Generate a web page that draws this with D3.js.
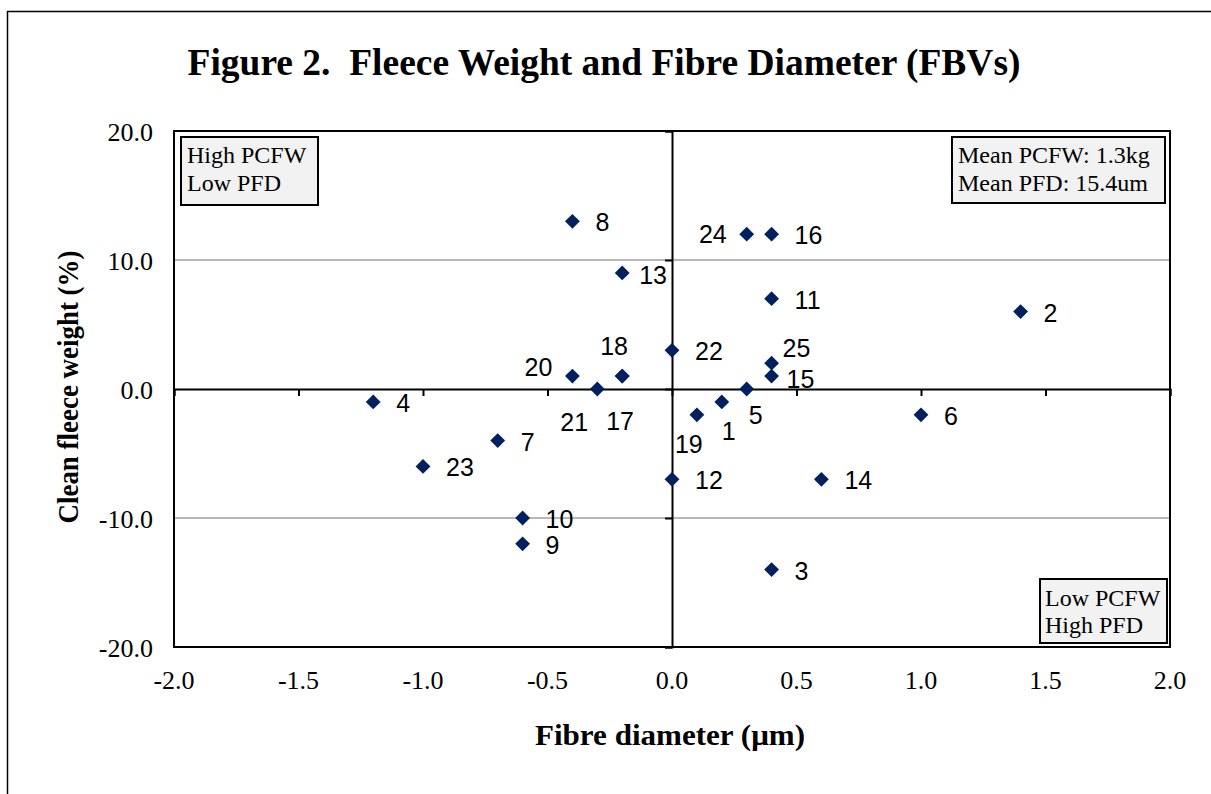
<!DOCTYPE html>
<html><head><meta charset="utf-8">
<script src="https://cdn.jsdelivr.net/npm/d3@7"></script>
<style>body{margin:0;background:#fff}svg{display:block}</style>
</head><body>
<script>
// ---- data ----
const sireIds = ["1","2","3","4","5","6","7","8","9","10","11","12","13","14","15","16","17","18","19","20","21","22","23","24","25"];
const fibreDiameter = [0.2,1.4,0.4,-1.2,0.3,1.0,-0.7,-0.4,-0.6,-0.6,0.4,0.0,-0.2,0.6,0.4,0.4,-0.2,-0.2,0.1,-0.4,-0.3,0.0,-1.0,0.3,0.4];
const cleanFleeceWeight = [-1,6,-14,-1,0,-2,-4,13,-12,-10,7,-7,9,-7,1,12,1,1,-2,1,0,3,-6,12,2];
const xTickValues = [-2.0,-1.5,-1.0,-0.5,0.0,0.5,1.0,1.5,2.0];
const yTickValues = [-20,-10,0,10,20];
const titleText = "Figure 2.  Fleece Weight and Fibre Diameter (FBVs)";
const xTitle = "Fibre diameter (\u03bcm)";
const yTitle = "Clean fleece weight (%)";
const boxTopLeft = ["High PCFW","Low PFD"];
const boxTopRight = ["Mean PCFW: 1.3kg","Mean PFD: 15.4um"];
const boxBottomRight = ["Low PCFW","High PFD"];

// ---- label placement (pixels, relative to marker) ----
const labelOffsets = {
  "1":[0,29,"start"],"5":[2,26,"start"],"19":[-22,29,"start"],
  "13":[17,2,"start"],"15":[15,3,"start"],"25":[11,-15,"start"],
  "18":[-22,-30,"start"],"20":[-20,-9,"end"],"21":[-37,33,"start"],
  "17":[-16,45,"start"],"24":[-20,0,"end"]
};

const W = 1211, H = 794;
const serif = "Liberation Serif, Times New Roman, serif";
const fmt = d => d3.format(".1f")(d).replace("\u2212","-");
const svg = d3.select("body").append("svg").attr("width", W).attr("height", H);

// outer chart border
svg.append("rect").attr("x",7.5).attr("y",11.5).attr("width",1400).attr("height",1000)
  .attr("fill","none").attr("stroke","#000").attr("stroke-width",1.5);

const L = 174, R = 1170, T = 131, B = 647;
const x = d3.scaleLinear().domain([-2,2]).range([L,R]);
const y = d3.scaleLinear().domain([-20,20]).range([B,T]);

// gridlines
svg.append("g").selectAll("line").data(yTickValues.filter(v => v !== 0 && Math.abs(v) !== 20))
  .join("line").attr("x1",L).attr("x2",R).attr("y1",d=>y(d)).attr("y2",d=>y(d))
  .attr("stroke","#a0a0a0").attr("stroke-width",1.5);

// plot border
svg.append("rect").attr("x",L).attr("y",T).attr("width",R-L).attr("height",B-T)
  .attr("fill","none").attr("stroke","#000").attr("stroke-width",2);

// axes through zero
const xAxis = d3.axisBottom(x).tickValues(xTickValues).tickSize(7).tickFormat("");
const gx = svg.append("g").attr("transform",`translate(0,${y(0)})`).call(xAxis);
gx.select(".domain").attr("stroke","#000").attr("stroke-width",2);
gx.selectAll(".tick line").attr("stroke","#000").attr("stroke-width",2);

const yAxis = d3.axisLeft(y).tickValues(yTickValues).tickSize(7).tickFormat("");
const gy = svg.append("g").attr("transform",`translate(${x(0)},0)`).call(yAxis);
gy.select(".domain").attr("stroke","#000").attr("stroke-width",2);
gy.selectAll(".tick line").attr("stroke","#000").attr("stroke-width",2);

// tick labels at plot edges
svg.append("g").selectAll("text").data(xTickValues).join("text")
  .attr("x",d=>x(d)).attr("y",689).attr("text-anchor","middle")
  .attr("font-family",serif).attr("font-size",26)
  .text(fmt);
svg.append("g").selectAll("text").data(yTickValues).join("text")
  .attr("x",153).attr("y",d=>y(d)+10).attr("text-anchor","end")
  .attr("font-family",serif).attr("font-size",26)
  .text(fmt);

// titles
svg.append("text").attr("x",604).attr("y",75).attr("text-anchor","middle")
  .attr("font-family",serif).attr("font-weight","bold")
  .attr("font-size",37).attr("textLength",833).attr("lengthAdjust","spacingAndGlyphs")
  .attr("xml:space","preserve").style("white-space","pre").text(titleText);
svg.append("text").attr("x",670).attr("y",745).attr("text-anchor","middle")
  .attr("font-family",serif).attr("font-weight","bold")
  .attr("font-size",30).attr("textLength",270).attr("lengthAdjust","spacingAndGlyphs").text(xTitle);
svg.append("text").attr("transform",`translate(78,387) rotate(-90)`).attr("text-anchor","middle")
  .attr("font-family",serif).attr("font-weight","bold")
  .attr("font-size",30).attr("textLength",273).attr("lengthAdjust","spacingAndGlyphs").text(yTitle);

// quadrant boxes
function box(x0,y0,w,h,lines,tx,b1,b2){
  const g = svg.append("g");
  g.append("rect").attr("x",x0).attr("y",y0).attr("width",w).attr("height",h)
    .attr("fill","#f2f2f2").attr("stroke","#000").attr("stroke-width",2);
  g.selectAll("text").data(lines).join("text").attr("x",tx).attr("y",(d,i)=>i?b2:b1)
    .attr("font-family",serif).attr("font-size",24).text(d=>d);
}
box(181,137,137,68,boxTopLeft,187,163,191);
box(952,137,213,66,boxTopRight,958,163,191);
box(1040,579,127,64,boxBottomRight,1045,606,633);

// points
const pts = sireIds.map((id,i)=>({id, fx:fibreDiameter[i], cw:cleanFleeceWeight[i]}));
svg.append("g").selectAll("path").data(pts).join("path")
  .attr("transform",d=>`translate(${x(d.fx)},${y(d.cw)})`)
  .attr("d",d3.symbol(d3.symbolDiamond2, 140))
  .attr("fill","#03205e");

svg.append("g").selectAll("text").data(pts).join("text")
  .attr("x",d=>x(d.fx)+(labelOffsets[d.id]?labelOffsets[d.id][0]:23))
  .attr("y",d=>y(d.cw)+(labelOffsets[d.id]?labelOffsets[d.id][1]:1))
  .attr("dy","0.36em")
  .attr("text-anchor",d=>labelOffsets[d.id]?labelOffsets[d.id][2]:"start")
  .attr("font-family","Liberation Sans, Arial, sans-serif").attr("font-size",25)
  .text(d=>d.id);
</script>
</body></html>
